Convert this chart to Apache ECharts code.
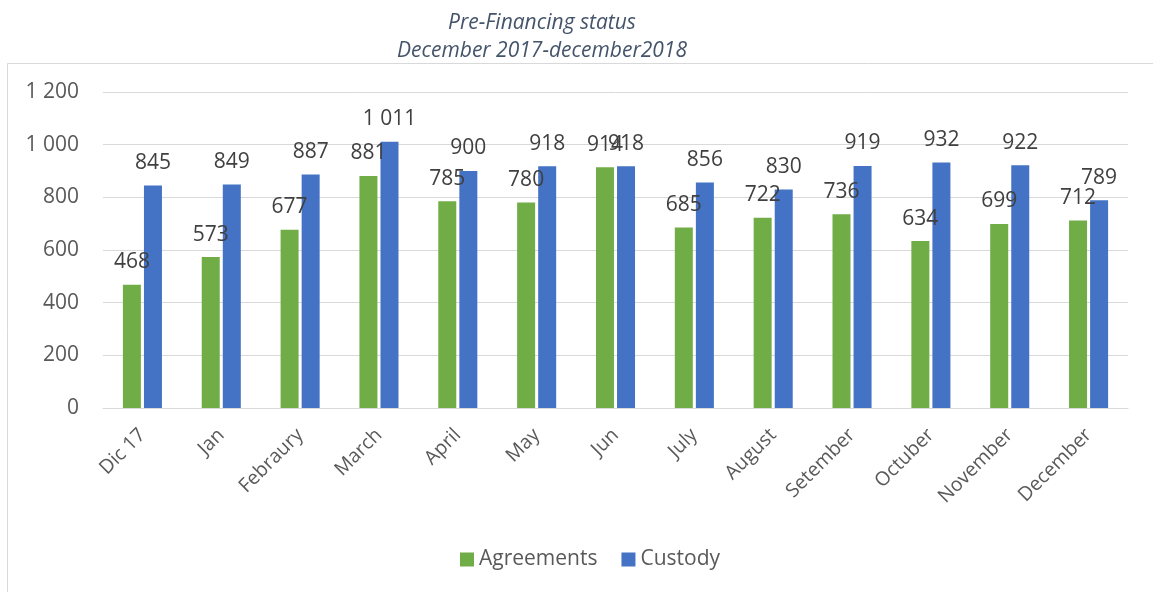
<!DOCTYPE html>
<html>
<head>
<meta charset="utf-8">
<script src="https://cdn.jsdelivr.net/npm/echarts@6/dist/echarts.min.js"></script>
<style>
  html, body { margin: 0; padding: 0; background: #fff; }
  #chart { width: 1153px; height: 592px; }
</style>
</head>
<body>
<div id="chart"></div>
<script>
  // categories and series values
  var months = ["Dic 17", "Jan", "Febraury", "March", "April", "May", "Jun", "July", "August", "Setember", "Octuber", "November", "December"];
  var agreements = [468, 573, 677, 881, 785, 780, 914, 685, 722, 736, 634, 699, 712];
  var custody = [845, 849, 887, 1011, 900, 918, 918, 856, 830, 919, 932, 922, 789];

  var fontName = "'Open Sans', 'Noto Sans', sans-serif";
  function fmt(v) {
    return String(v).replace(/\B(?=(\d{3})+(?!\d))/g, " ");
  }

  var myChart = echarts.init(document.getElementById("chart"));
  myChart.setOption({
    animation: false,
    title: {
      text: "Pre-Financing status\nDecember 2017-december2018",
      left: 537,
      textAlign: "center",
      top: 4,
      textStyle: {
        color: "#44546a",
        fontStyle: "italic",
        fontWeight: "normal",
        fontFamily: fontName,
        fontSize: 21,
        lineHeight: 28,
      },
    },
    graphic: [
      {
        type: "rect",
        shape: { x: 7.5, y: 63.5, width: 1160, height: 540 },
        style: { fill: "none", stroke: "#d9d9d9", lineWidth: 1 },
        silent: true,
      },
    ],
    legend: {
      bottom: 17,
      left: 455,
      itemWidth: 14,
      itemHeight: 14,
      itemGap: 24,
      icon: "rect",
      textStyle: { color: "#595959", fontSize: 21, fontFamily: fontName },
      data: ["Agreements", "Custody"],
    },
    grid: {
      left: 103,
      right: 25,
      top: 92,
      bottom: 184,
      containLabel: false,
    },
    xAxis: {
      type: "category",
      data: months,
      axisTick: { show: false },
      axisLine: { lineStyle: { color: "#d9d9d9", width: 1 } },
      axisLabel: {
        color: "#595959",
        fontSize: 19.5,
        fontFamily: fontName,
        rotate: 45,
        interval: 0,
        margin: 24,
      },
    },
    yAxis: {
      type: "value",
      min: 0,
      max: 1200,
      interval: 200,
      axisLine: { show: false },
      axisTick: { show: false },
      splitLine: { lineStyle: { color: "#d9d9d9", width: 1 } },
      axisLabel: {
        color: "#595959",
        fontSize: 21,
        fontFamily: fontName,
        margin: 24,
        formatter: fmt,
      },
    },
    series: [
      {
        name: "Agreements",
        type: "bar",
        data: agreements,
        barWidth: 18,
        barGap: "17%",
        itemStyle: { color: "#70ad47" },
        label: {
          show: true,
          position: "top",
          distance: 12,
          color: "#404040",
          fontSize: 21,
          fontFamily: fontName,
          formatter: function (p) { return fmt(p.value); },
        },
      },
      {
        name: "Custody",
        type: "bar",
        data: custody,
        barWidth: 18,
        itemStyle: { color: "#4472c4" },
        label: {
          show: true,
          position: "top",
          distance: 12,
          color: "#404040",
          fontSize: 21,
          fontFamily: fontName,
          formatter: function (p) { return fmt(p.value); },
        },
      },
    ],
  });
</script>
</body>
</html>
